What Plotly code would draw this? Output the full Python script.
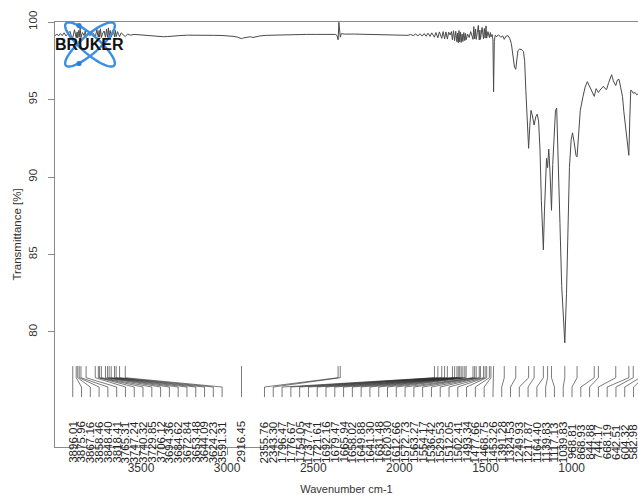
import math
import plotly.graph_objects as go

# ---------------- data ----------------
wavenumber = [
    3999, 3988, 3978, 3968, 3957, 3946, 3935, 3924, 3912, 3904, 3896.01, 3886, 3879, 3875.96, 3871,
    3867.16, 3862, 3858.46, 3853, 3848.40, 3840, 3830, 3823, 3818.41, 3808, 3796, 3784, 3772, 3765.31,
    3756, 3751, 3747.24, 3743, 3740.32, 3735, 3729.85, 3722, 3714, 3706.12, 3700, 3694.36, 3689,
    3684.62, 3679, 3672.84, 3666, 3660, 3653.48, 3649, 3644.09, 3636, 3630, 3624.23, 3615, 3603,
    3591.31, 3578, 3560, 3540, 3510, 3480, 3440, 3400, 3370, 3345, 3320, 3280, 3230, 3180, 3130,
    3080, 3030, 2990, 2960, 2940, 2925, 2916.45, 2905, 2885, 2865, 2850, 2835, 2810, 2770, 2720,
    2660, 2600, 2540, 2480, 2420, 2385, 2370, 2362, 2355.76, 2351, 2347, 2343.30, 2337, 2320, 2260,
    2200, 2140, 2100, 2080, 2040, 2000, 1970, 1950, 1935, 1920, 1905, 1892, 1880, 1868, 1856, 1845,
    1834, 1822, 1812, 1804, 1796.47, 1788, 1782, 1776.67, 1768, 1760, 1754.05, 1746, 1737.74, 1730,
    1721.61, 1714, 1705, 1698, 1692.16, 1686, 1679.47, 1673, 1665.94, 1662, 1658.02, 1654, 1649.88,
    1645, 1641.30, 1636, 1631.48, 1626, 1620.30, 1616, 1612.66, 1604, 1595, 1586, 1578, 1572.73,
    1568, 1563.27, 1558, 1554.17, 1548, 1542, 1536.42, 1533, 1529.53, 1520, 1512.05, 1507, 1502.41,
    1497, 1493.34, 1486, 1477.66, 1472, 1468.75, 1462, 1457, 1453.26, 1449, 1444, 1435, 1425, 1412,
    1400, 1391.28, 1382, 1370, 1360, 1350, 1340, 1332, 1324.53, 1318, 1312, 1302, 1290, 1280, 1273,
    1266, 1258, 1249.93, 1243, 1236, 1229, 1217.87, 1208, 1200, 1192, 1184, 1176, 1170, 1164.40,
    1158, 1152, 1146, 1139.83, 1133, 1126, 1117.13, 1110, 1102, 1094, 1087, 1078, 1068, 1058, 1048,
    1039.83, 1030, 1022, 1013, 1003, 995, 985, 975, 968.81, 960, 950, 935, 922, 909, 895, 883,
    868.93, 858, 844.88, 836, 826, 816, 806, 797, 785, 768, 758, 744.17, 735, 725, 716, 705, 697,
    690, 680, 668.19, 662, 657, 650, 642.51, 632, 622, 612, 604.32, 595, 582.98, 570,
]
transmittance = [
    99.12, 99.22, 99.10, 99.25, 99.12, 99.30, 99.10, 99.24, 99.40, 99.08, 98.98, 99.50, 99.10, 98.98, 99.36,
    98.97, 99.45, 99.02, 99.62, 98.98, 99.32, 99.12, 99.44, 99.00, 99.28, 99.12, 99.34, 99.20, 99.00,
    99.52, 99.15, 99.02, 99.45, 99.02, 99.56, 99.00, 99.28, 99.42, 99.02, 99.55, 99.02, 99.62,
    99.00, 99.45, 99.02, 99.28, 99.42, 99.04, 99.46, 99.05, 99.38, 99.20, 99.06, 99.30, 99.18,
    99.06, 99.22, 99.15, 99.20, 99.17, 99.15, 99.12, 99.08, 99.05, 99.06, 99.09, 99.12, 99.15, 99.16, 99.15,
    99.14, 99.13, 99.11, 99.07, 99.02, 98.97, 98.93, 98.97, 99.03, 99.05, 99.00, 99.05, 99.10, 99.14, 99.16,
    99.18, 99.19, 99.20, 99.20, 99.21, 99.22, 99.20, 99.12, 98.85, 99.98, 99.40, 99.02, 99.25, 99.22, 99.22,
    99.21, 99.20, 99.19, 99.16, 99.16, 99.15, 99.17, 99.14, 99.20, 99.12, 99.22, 99.10, 99.24, 99.09, 99.25, 99.08,
    99.28, 99.07, 99.30, 99.12, 99.02, 99.32, 99.12, 98.98, 99.36, 99.14, 98.95, 99.38, 98.92, 99.36,
    98.90, 99.34, 99.16, 99.38, 98.85, 99.44, 98.80, 99.40, 98.72, 99.28, 98.66, 99.45, 98.72,
    99.34, 98.68, 99.22, 98.74, 99.32, 98.80, 99.26, 98.85, 99.22, 99.00, 99.38, 99.08, 98.88,
    99.70, 98.92, 99.55, 98.88, 99.30, 99.78, 98.84, 99.48, 98.88, 99.65, 98.92, 99.58, 98.96,
    99.75, 98.96, 99.38, 99.00, 99.32, 99.04, 99.20, 98.85, 95.50, 98.75, 99.15, 99.05, 99.18, 99.02,
    99.10, 98.88, 99.08, 99.12, 98.95, 98.60, 97.80, 97.10, 96.95, 97.60, 98.15, 98.25, 98.22, 98.10, 97.50,
    95.60, 93.20, 91.85, 93.30, 94.30, 94.00, 93.35, 93.90, 94.05, 93.60, 91.80, 88.50, 86.20, 85.30,
    87.80, 90.20, 91.20, 90.60, 91.80, 90.40, 87.85, 90.80, 93.20, 94.30, 94.45, 91.50, 87.00, 83.00, 80.40,
    79.30, 82.50, 87.00, 90.60, 92.40, 92.85, 92.20, 91.40, 91.30, 93.00, 94.30, 95.15, 95.80, 96.15, 95.80, 95.45,
    95.20, 95.70, 95.45, 95.60, 95.75, 95.85, 95.70, 95.65, 96.10, 96.60, 96.20, 95.90, 96.25, 96.30, 95.80, 95.20, 94.20,
    93.50, 92.40, 91.40, 94.00, 95.60, 95.55, 95.40, 95.45, 95.30, 95.40, 94.80, 95.30, 94.90, 95.20,
]

peak_wavenumbers = [
    3896.01, 3875.96, 3867.16, 3858.46, 3848.40, 3818.41, 3765.31, 3747.24, 3740.32, 3729.85,
    3706.12, 3694.36, 3684.62, 3672.84, 3653.48, 3644.09, 3624.23, 3591.31,
    2916.45,
    2355.76, 2343.30, 1796.47, 1776.67, 1754.05, 1737.74, 1721.61, 1692.16, 1679.47, 1665.94,
    1658.02, 1649.88, 1641.30, 1631.48, 1620.30, 1612.66, 1572.73, 1563.27, 1554.17, 1536.42,
    1529.53, 1512.05, 1502.41, 1493.34, 1477.66, 1468.75, 1453.26,
    1391.28, 1324.53, 1249.93, 1217.87, 1164.40, 1139.83, 1117.13, 1039.83, 968.81, 868.93,
    844.88, 744.17, 668.19, 642.51, 604.32, 582.98,
]
peak_labels = ["%.2f" % p for p in peak_wavenumbers]

x_ticks = [3500, 3000, 2500, 2000, 1500, 1000]
y_ticks = [80, 85, 90, 95, 100]

# ---------------- layout constants ----------------
X_RANGE = [3999, 615]
Y_RANGE = [72.58, 100]
W, H = 638, 495
ML, MR, MT, MB = 55, 0, 22, 48

# peak-label spreading (1D, min separation in cm-1)
MIN_SEP = 51.0
LABEL_LIMIT = 641.0
lab = []
for i, p in enumerate(peak_wavenumbers):
    lab.append(p if i == 0 else min(p, lab[-1] - MIN_SEP))
lab[-1] = max(lab[-1], LABEL_LIMIT)
for i in range(len(lab) - 2, -1, -1):
    lab[i] = max(lab[i], lab[i + 1] + MIN_SEP)

Y_TICK_TOP, Y_TICK_BOT, Y_BEND, Y_LINE_END, Y_TEXT_MID = 77.8, 77.05, 76.45, 75.8, 72.9

lx, ly = [], []
for p, l in zip(peak_wavenumbers, lab):
    lx += [p, p, l, l, None]
    ly += [Y_TICK_TOP, Y_TICK_BOT, Y_BEND, Y_LINE_END, None]

fig = go.Figure()
fig.add_trace(go.Scatter(x=wavenumber, y=transmittance, mode="lines",
                         line=dict(color="#4a4a4a", width=1), hoverinfo="skip", showlegend=False))
fig.add_trace(go.Scatter(x=lx, y=ly, mode="lines", line=dict(color="#222222", width=0.6),
                         hoverinfo="skip", showlegend=False))

annotations = []
for txt, l in zip(peak_labels, lab):
    annotations.append(dict(x=l, y=Y_TEXT_MID, xref="x", yref="y", text=txt, showarrow=False,
                            textangle=-90, xanchor="center", yanchor="middle",
                            font=dict(family="Liberation Sans", size=11.5, color="#222222")))

# Bruker logo (decorative), in pixel -> paper coordinates
def px2paper(px, py):
    return (px - ML) / (W - ML - MR), (H - MB - py) / (H - MT - MB)

shapes = []
for ang in (41, -41):
    t = math.radians(ang)
    pts = []
    for k in range(73):
        s = 2 * math.pi * k / 72
        ex, ey = 32 * math.cos(s), 9 * math.sin(s)
        px = 90 + ex * math.cos(t) - ey * math.sin(t)
        py = 44.5 + ex * math.sin(t) + ey * math.cos(t)
        pts.append(px2paper(px, py))
    path = "M " + " L ".join("%.5f,%.5f" % q for q in pts) + " Z"
    shapes.append(dict(type="path", path=path, xref="paper", yref="paper",
                       line=dict(color="#3a8ee6", width=2.4), layer="above"))
for (cx, cy) in [(79, 25.5), (79, 63.5)]:
    x0, y0 = px2paper(cx - 2.6, cy + 2.6)
    x1, y1 = px2paper(cx + 2.6, cy - 2.6)
    shapes.append(dict(type="circle", xref="paper", yref="paper", x0=x0, y0=y0, x1=x1, y1=y1,
                       fillcolor="#2f7fd8", line=dict(width=0), layer="above"))
bx, by = px2paper(89.5, 45)
annotations.append(dict(x=bx, y=by, xref="paper", yref="paper", text="<b>BRUKER</b>",
                        showarrow=False, xanchor="center", yanchor="middle",
                        font=dict(family="Liberation Sans", size=16, color="#111111")))

fig.update_layout(
    width=W, height=H, margin=dict(l=ML, r=MR, t=MT, b=MB, pad=0, autoexpand=False),
    paper_bgcolor="white", plot_bgcolor="white",
    font=dict(family="Liberation Sans", color="#333333"),
    annotations=annotations, shapes=shapes, showlegend=False,
    xaxis=dict(range=X_RANGE, autorange=False, automargin=False, showgrid=False, zeroline=False,
               showline=True, linecolor="#8a8a8a", linewidth=1, mirror=True,
               ticks="outside", ticklen=7, tickcolor="#8a8a8a", tickvals=x_ticks,
               ticktext=[str(v) for v in x_ticks], tickfont=dict(size=12, color="#333333"),
               ticklabelstandoff=3,
               title=dict(text="Wavenumber cm-1", font=dict(size=11, color="#333333"), standoff=11)),
    yaxis=dict(range=Y_RANGE, autorange=False, automargin=False, showgrid=False, zeroline=False,
               showline=True, linecolor="#8a8a8a", linewidth=1, mirror=False,
               ticks="outside", ticklen=6, tickcolor="#8a8a8a", tickvals=y_ticks,
               ticktext=[str(v) for v in y_ticks], tickangle=-90,
               tickfont=dict(size=11.5, color="#333333"), ticklabelstandoff=6,
               title=dict(text="Transmittance [%]", font=dict(size=11.5, color="#333333"), standoff=3)),
)

fig.write_html("out.html", config={"displayModeBar": False},
               post_script="document.body.style.margin='0px';document.body.style.overflow='hidden';")
